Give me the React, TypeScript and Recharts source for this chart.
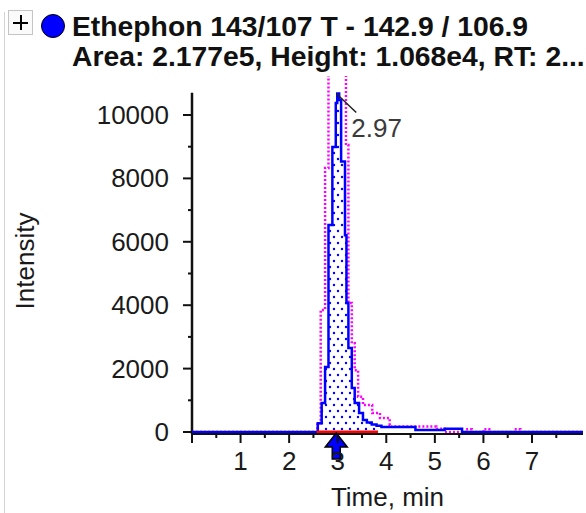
import {
  ComposedChart,
  Line,
  Area,
  XAxis,
  YAxis,
  ReferenceLine,
  ReferenceDot,
} from 'recharts';

// blue XIC trace (time in min, intensity in cps), drawn as steps
const blueTime = [0, 2.54, 2.59, 2.67, 2.74, 2.81, 2.89, 2.96, 2.99, 3.03, 3.07, 3.15, 3.18, 3.22, 3.29, 3.35, 3.44, 3.52, 3.6, 3.7, 3.8, 3.9, 4.6, 5.2, 5.56, 8.05];
const blueIntensity = [0, 0, 280, 915, 2050, 6530, 8990, 10380, 10680, 10470, 8530, 6210, 4070, 2650, 1390, 915, 600, 380, 300, 240, 200, 160, 60, 100, 0, 0];

// magenta dotted trace
const pinkTime = [0, 2.58, 2.65, 2.74, 2.81, 2.9, 3.0, 3.1, 3.17, 3.22, 3.29, 3.35, 3.42, 3.52, 3.71, 3.87, 4.07, 4.1, 5.03, 5.2, 5.64, 5.76, 6.0, 6.12, 6.64, 6.76, 8.05];
const pinkIntensity = [0, 280, 3850, 8330, 12800, 14600, 15000, 13400, 9050, 4070, 2800, 1950, 1110, 850, 600, 440, 220, 170, 100, 0, 90, 0, 90, 0, 90, 0, 0];

// integration window and peak annotation
const baselineStart = 2.565;
const baselineEnd = 3.83;
const apexTime = 2.97;
const apexHeight = 10680;
const apexLabel = '2.97';
const yAxisTop = 10700;
const yDomainMin = -63;
const yDomainMax = 11230;

const xTicks = [0, 0.5, 1, 1.5, 2, 2.5, 3, 3.5, 4, 4.5, 5, 5.5, 6, 6.5, 7, 7.5];
const yTicks = [0, 1000, 2000, 3000, 4000, 5000, 6000, 7000, 8000, 9000, 10000];

const titleLine1 = 'Ethephon 143/107 T - 142.9 / 106.9';
const titleLine2 = 'Area: 2.177e5, Height: 1.068e4, RT: 2...';

const FONT = '"Liberation Sans", Arial, sans-serif';

const blueData = blueTime.map((t, i) => ({ t, v: blueIntensity[i] }));
const pinkData = pinkTime.map((t, i) => ({ t, v: pinkIntensity[i] }));
const baselineData = [
  { t: baselineStart, v: 0 },
  { t: baselineEnd, v: 0 },
];

const valueAt = (t: number) => {
  let v = 0;
  blueTime.forEach((bt, i) => {
    if (bt <= t) v = blueIntensity[i];
  });
  return v;
};
const areaData = [
  { t: baselineStart, v: valueAt(baselineStart) },
  ...blueData.filter((d) => d.t > baselineStart && d.t < baselineEnd),
  { t: baselineEnd, v: valueAt(baselineEnd) },
];

const XTick = ({ x, y, payload }: any) => {
  const v = payload.value;
  const major = Number.isInteger(v);
  return (
    <g>
      <line x1={x} x2={x} y1={y} y2={y + (major ? 9 : 4)} stroke="#111" strokeWidth={2} />
      {major && v > 0 && (
        <text x={x} y={y + 36} textAnchor="middle" fontSize={26} fontFamily={FONT} fill="#1a1a1a">
          {v}
        </text>
      )}
    </g>
  );
};

const YTick = ({ x, y, payload }: any) => {
  const v = payload.value;
  const major = v % 2000 === 0;
  return (
    <g>
      <line x1={x - (major ? 9 : 4)} x2={x} y1={y} y2={y} stroke="#111" strokeWidth={2} />
      {major && (
        <text x={x - 23} y={y + 9} textAnchor="end" fontSize={26} fontFamily={FONT} fill="#1a1a1a">
          {v}
        </text>
      )}
    </g>
  );
};

const YTitle = (props: any) => {
  const vb = props.viewBox ?? { x: 0, y: 76, width: 192, height: 358 };
  const cx = vb.x + 34;
  const cy = vb.y + vb.height / 2 + 6;
  return (
    <text x={cx} y={cy} transform={`rotate(-90 ${cx} ${cy})`} textAnchor="middle" fontSize={26} fontFamily={FONT} fill="#1a1a1a">
      Intensity
    </text>
  );
};

const ApexLabel = ({ cx, cy }: any) => (
  <g>
    <line x1={cx} y1={cy} x2={cx + 20} y2={cy + 19} stroke="#222" strokeWidth={1.5} />
    <text x={cx + 15} y={cy + 44} fontSize={26} fontFamily={FONT} fill="#3a3a3a">
      {apexLabel}
    </text>
  </g>
);

const RtArrow = ({ cx, cy }: any) => (
  <path
    d={`M${cx},${cy + 1} L${cx + 11},${cy + 15} L${cx + 4},${cy + 15} L${cx + 4},${cy + 27} L${cx - 4},${cy + 27} L${cx - 4},${cy + 15} L${cx - 11},${cy + 15} Z`}
    fill="#0000ff"
    stroke="#000"
    strokeWidth={1.5}
  />
);

export default function App() {
  return (
    <div style={{ position: 'absolute', left: 0, top: 0, width: 586, height: 513, background: '#fff', overflow: 'hidden' }}>
      <div style={{ position: 'absolute', left: 4, top: 12, width: 1, bottom: 0, background: '#d4d4d4' }} />
      <div style={{ position: 'absolute', left: 8, top: 10, width: 25, height: 25, border: '1px solid #c4c4c4', boxSizing: 'border-box', background: '#fafafa' }}>
        <div style={{ position: 'absolute', left: 4, top: 10.5, width: 15, height: 2, background: '#000' }} />
        <div style={{ position: 'absolute', left: 10.5, top: 4, width: 2, height: 15, background: '#000' }} />
      </div>
      <div style={{ position: 'absolute', left: 41, top: 13.5, width: 24, height: 24, borderRadius: '50%', background: '#0000ff', border: '1.5px solid #000', boxSizing: 'border-box' }} />
      <svg width={586} height={80} style={{ position: 'absolute', left: 0, top: 0 }}>
        <text x={72} y={35.5} fontSize={28.3} fontWeight="bold" fontFamily={FONT} fill="#111">
          {titleLine1}
        </text>
        <text x={72} y={65.5} fontSize={28.3} fontWeight="bold" fontFamily={FONT} fill="#111">
          {titleLine2}
        </text>
      </svg>
      <div style={{ position: 'absolute', left: 0, top: 0 }}>
        <ComposedChart width={586} height={513} margin={{ top: 76, right: 3, bottom: 0, left: 0 }}>
          <defs>
            <pattern id="peakDots" width={8} height={12} patternUnits="userSpaceOnUse">
              <rect width={8} height={12} fill="#fff" />
              <circle cx={2} cy={3} r={1.2} fill="#0000ff" />
              <circle cx={6} cy={9} r={1.2} fill="#0000ff" />
            </pattern>
          </defs>
          <XAxis
            type="number"
            dataKey="t"
            domain={[0, 8.05]}
            ticks={xTicks}
            interval={0}
            height={79}
            tickSize={0}
            tickMargin={0}
            tick={<XTick />}
            axisLine={{ stroke: '#111', strokeWidth: 2 }}
            tickLine={false}
            allowDataOverflow
            label={{ value: 'Time, min', position: 'insideBottom', offset: 7, fontSize: 26, fontFamily: FONT, fill: '#1a1a1a' }}
          />
          <YAxis
            type="number"
            dataKey="v"
            domain={[yDomainMin, yDomainMax]}
            ticks={yTicks}
            interval={0}
            width={192}
            tickSize={0}
            tickMargin={0}
            tick={<YTick />}
            axisLine={false}
            tickLine={false}
            allowDataOverflow
            label={<YTitle />}
          />
          <ReferenceLine segment={[{ x: 0, y: yDomainMin }, { x: 0, y: yAxisTop }]} stroke="#111" strokeWidth={2.5} />
          <Area
            data={areaData}
            dataKey="v"
            type="stepAfter"
            stroke="none"
            fill="url(#peakDots)"
            fillOpacity={1}
            baseValue={0}
            dot={false}
            activeDot={false}
            isAnimationActive={false}
          />
          <Line
            data={pinkData}
            dataKey="v"
            type="stepAfter"
            stroke="#ff00ff"
            strokeWidth={2.5}
            strokeDasharray="2 2"
            dot={false}
            activeDot={false}
            isAnimationActive={false}
          />
          <Line
            data={blueData}
            dataKey="v"
            type="stepAfter"
            stroke="#0000ff"
            strokeWidth={2.5}
            dot={false}
            activeDot={false}
            isAnimationActive={false}
          />
          <Line
            data={baselineData}
            dataKey="v"
            type="linear"
            stroke="#ff0000"
            strokeWidth={3}
            dot={false}
            activeDot={false}
            isAnimationActive={false}
          />
          <ReferenceDot x={apexTime} y={apexHeight} shape={<ApexLabel />} />
          <ReferenceDot x={apexTime} y={0} shape={<RtArrow />} ifOverflow="visible" />
        </ComposedChart>
      </div>
    </div>
  );
}
